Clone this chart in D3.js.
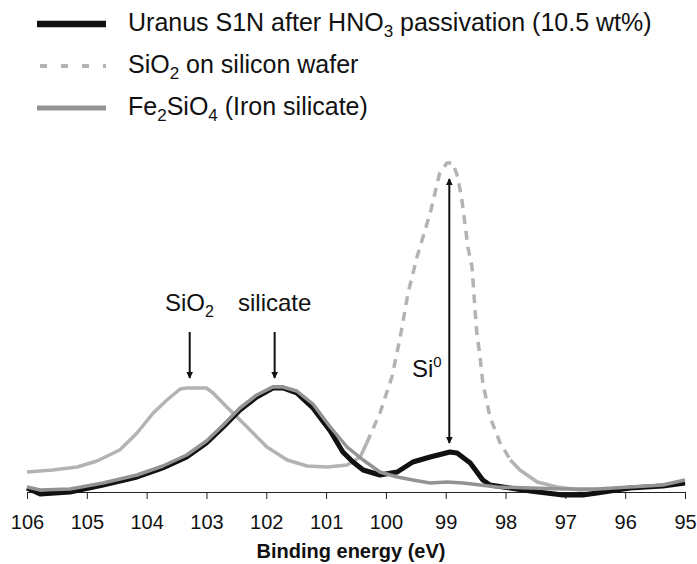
<!DOCTYPE html>
<html lang="en">
<head>
  <meta charset="UTF-8">
  <title>Si 2p XPS</title>
  <script src="https://d3js.org/d3.v7.min.js"></script>
  <style>
    body { margin: 0; background: #fff; }
    text { font-family: "Liberation Sans", Arial, sans-serif; fill: #111; }
  </style>
</head>
<body>
  <div id="container"></div>
  <script>
    // binding energy (eV) and intensity (a.u.)
    const wafer = [
      [106.00, 20], [105.57, 22], [105.16, 25], [104.83, 31], [104.45, 42], [104.16, 59],
      [103.89, 79], [103.66, 92], [103.44, 103], [103.33, 104], [103.00, 104], [102.89, 99],
      [102.66, 85], [102.32, 65], [101.99, 45], [101.65, 32], [101.32, 26], [100.98, 25],
      [100.65, 27], [100.43, 35], [100.32, 49], [100.10, 79], [99.90, 115], [99.76, 155],
      [99.63, 199], [99.48, 235], [99.38, 255], [99.26, 279], [99.18, 299], [99.10, 319],
      [98.98, 329], [98.88, 329], [98.80, 315], [98.73, 292], [98.68, 269], [98.63, 245],
      [98.56, 225], [98.51, 182], [98.48, 159], [98.43, 137], [98.38, 109], [98.26, 75],
      [98.09, 49], [97.92, 32], [97.76, 22], [97.47, 10], [97.14, 5], [96.76, 2],
      [96.20, 3], [95.64, 5], [95.00, 10]
    ]
    const uranus = [
      [106.00, 4], [105.78, -2], [105.28, 0], [104.73, 7], [104.16, 15], [103.73, 24],
      [103.33, 35], [103.00, 49], [102.72, 65], [102.44, 82], [102.16, 95], [101.89, 104],
      [101.72, 104], [101.49, 99], [101.22, 84], [100.93, 61], [100.72, 40], [100.55, 30],
      [100.38, 22], [100.10, 17], [99.81, 20], [99.55, 30], [99.26, 35], [98.93, 40],
      [98.81, 39], [98.59, 29], [98.38, 12], [98.26, 7], [98.04, 5], [97.59, 1],
      [97.04, -3], [96.71, -3], [96.47, -1], [95.92, 4], [95.37, 6], [95.00, 9]
    ]
    const silicate = [
      [106.00, 5], [105.78, 2], [105.28, 3], [104.73, 9], [104.16, 17], [103.73, 26],
      [103.33, 37], [103.00, 51], [102.72, 67], [102.44, 84], [102.16, 97], [101.89, 105],
      [101.72, 105], [101.49, 101], [101.22, 88], [100.93, 65], [100.65, 45], [100.38, 32],
      [100.10, 20], [99.81, 15], [99.55, 12], [99.26, 9], [98.98, 10], [98.71, 9],
      [98.14, 5], [97.59, 4], [97.04, 3], [96.47, 3], [95.92, 5], [95.37, 7], [95.00, 12]
    ]
    const ticks = [106, 105, 104, 103, 102, 101, 100, 99, 98, 97, 96, 95]

    const svg = d3.select('#container').append('svg')
      .attr('width', 697)
      .attr('height', 564)

    const x = d3.scaleLinear().domain([106, 95]).range([27, 685])
    const y = d3.scaleLinear().domain([0, 330]).range([492, 162])

    const line = d3.line()
      .x(d => x(d[0]))
      .y(d => y(d[1]))

    // axis
    const axis = svg.append('g')
      .attr('transform', 'translate(0,' + y(0) + ')')
      .call(d3.axisBottom(x).tickValues(ticks).tickSize(7).tickSizeOuter(0).tickPadding(16).tickFormat(d3.format('d')))
    axis.select('.domain').attr('stroke', '#222')
    axis.selectAll('.tick line').attr('stroke', '#222')
    axis.selectAll('.tick text').style('font-size', '20px').style('font-family', '"Liberation Sans", Arial, sans-serif').attr('fill', '#111')

    svg.append('text')
      .attr('x', 351)
      .attr('y', 558)
      .attr('text-anchor', 'middle')
      .style('font-size', '20px')
      .style('font-weight', 'bold')
      .text('Binding energy (eV)')

    // SiO2 on wafer: looks solid where flat, dashed along the steep Si0 peak
    const dashFrom = 100.32, dashTo = 97.92
    const parts = [
      { pts: wafer.filter(d => d[0] >= dashFrom), dash: null },
      { pts: wafer.filter(d => d[0] <= dashFrom && d[0] >= dashTo), dash: '9,7' },
      { pts: wafer.filter(d => d[0] <= dashTo), dash: null }
    ]
    parts.forEach(p => {
      svg.append('path')
        .attr('d', line(p.pts))
        .attr('fill', 'none')
        .attr('stroke', '#b3b3b3')
        .attr('stroke-width', 3.5)
        .attr('stroke-linejoin', 'round')
        .attr('stroke-dasharray', p.dash)
    })

    svg.append('path')
      .attr('d', line(uranus))
      .attr('fill', 'none')
      .attr('stroke', '#111')
      .attr('stroke-width', 5)
      .attr('stroke-linejoin', 'round')

    svg.append('path')
      .attr('d', line(silicate))
      .attr('fill', 'none')
      .attr('stroke', '#939393')
      .attr('stroke-width', 3.5)
      .attr('stroke-linejoin', 'round')

    // arrows
    const defs = svg.append('defs')
    defs.append('marker')
      .attr('id', 'head')
      .attr('viewBox', '0 0 10 10')
      .attr('refX', 9).attr('refY', 5)
      .attr('markerWidth', 7).attr('markerHeight', 7)
      .attr('markerUnits', 'userSpaceOnUse')
      .attr('orient', 'auto-start-reverse')
      .append('path')
        .attr('d', 'M0,0L10,5L0,10z')
        .attr('fill', '#111')

    const arrows = [
      { e: 103.28, y1: 332, y2: 378, both: false },
      { e: 101.86, y1: 332, y2: 378, both: false },
      { e: 98.94, y1: 179, y2: 443, both: true }
    ]
    arrows.forEach(a => {
      svg.append('line')
        .attr('x1', x(a.e)).attr('x2', x(a.e))
        .attr('y1', a.y1).attr('y2', a.y2)
        .attr('stroke', '#111')
        .attr('stroke-width', 2)
        .attr('marker-end', 'url(#head)')
        .attr('marker-start', a.both ? 'url(#head)' : null)
    })

    // peak labels
    const lbl1 = svg.append('text').attr('x', 165).attr('y', 311).style('font-size', '24px')
    lbl1.append('tspan').text('SiO')
    lbl1.append('tspan').attr('dy', 6).style('font-size', '16px').text('2')

    svg.append('text').attr('x', 238).attr('y', 311).style('font-size', '24px').text('silicate')

    const lbl3 = svg.append('text').attr('x', 412).attr('y', 377).style('font-size', '24px')
    lbl3.append('tspan').text('Si')
    lbl3.append('tspan').attr('dy', -10).style('font-size', '15px').text('0')

    // legend
    const legend = [
      { parts: [['Uranus S1N after HNO', 0], ['3', 1], [' passivation (10.5 wt%)', 0]], color: '#111', width: 6.5, dash: null },
      { parts: [['SiO', 0], ['2', 1], [' on silicon wafer', 0]], color: '#b3b3b3', width: 4, dash: '7,14' },
      { parts: [['Fe', 0], ['2', 1], ['SiO', 0], ['4', 1], [' (Iron silicate)', 0]], color: '#939393', width: 5, dash: null }
    ]
    legend.forEach((l, i) => {
      const base = 31 + i * 42
      svg.append('line')
        .attr('x1', l.dash ? 40 : 37).attr('x2', 106)
        .attr('y1', base - 7).attr('y2', base - 7)
        .attr('stroke', l.color)
        .attr('stroke-width', l.width)
        .attr('stroke-dasharray', l.dash)
      const t = svg.append('text').attr('x', 128).attr('y', base).style('font-size', '25px')
      let shifted = 0
      l.parts.forEach(p => {
        const want = p[1] ? 6 : 0
        t.append('tspan')
          .attr('dy', want - shifted)
          .style('font-size', p[1] ? '17px' : '25px')
          .text(p[0])
        shifted = want
      })
    })
  </script>
</body>
</html>
